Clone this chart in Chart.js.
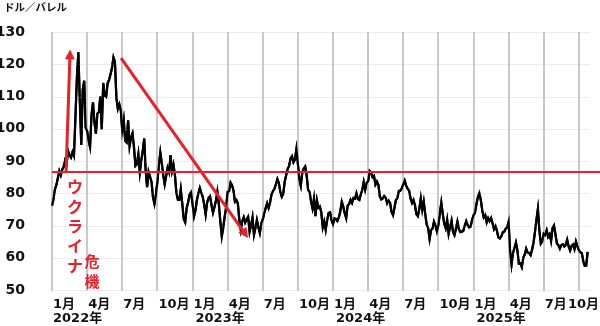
<!DOCTYPE html>
<html>
<head>
<meta charset="utf-8">
<script src="https://cdn.jsdelivr.net/npm/chart.js@4.4.0/dist/chart.umd.min.js"></script>
<style>
  html, body { margin: 0; padding: 0; background: #fff; }
  #wrap { width: 600px; height: 326px; position: relative; }
</style>
</head>
<body>
<div id="wrap"><canvas id="oilChart"></canvas></div>
<script>
const FONT = '"DejaVu Sans", "Noto Sans CJK JP", sans-serif';

// axis labels
const years = ['2022年', '2023年', '2024年', '2025年'];
const quarterLabels = ['1月', '4月', '7月', '10月'];
const quarterStarts = [0, 3, 6, 9, 12, 15, 18, 21, 24, 27, 30, 33, 36, 39, 42, 45];
const yTicks = [50, 60, 70, 80, 90, 100, 110, 120, 130];
const unitLabel = 'ドル／バレル';

// WTI price, ~8 readings per month
const wti2022 = [
  [76.1, 78.2, 81.2, 82.6, 84.7, 86.9, 85.6, 87.4],
  [88.2, 90.3, 89.4, 93.1, 91.8, 91.1, 92.8, 91.6],
  [103.4, 115.7, 123.7, 108.7, 95.0, 112.1, 114.9, 100.3],
  [99.3, 96.2, 94.3, 104.3, 108.2, 102.1, 98.5, 104.7],
  [105.2, 110.0, 99.8, 114.2, 110.3, 109.9, 114.1, 115.1],
  [116.9, 118.9, 122.1, 120.7, 109.6, 106.2, 107.6, 105.8],
  [99.5, 102.7, 96.3, 95.8, 102.6, 94.7, 97.3, 98.6],
  [94.4, 88.5, 89.0, 92.1, 86.5, 90.2, 93.1, 97.0],
  [86.9, 81.9, 86.6, 85.1, 83.5, 78.7, 76.7, 79.5],
  [83.6, 88.5, 92.6, 89.4, 85.6, 82.8, 85.3, 87.9],
  [86.5, 91.8, 86.9, 88.9, 85.6, 80.1, 78.0, 77.9],
  [81.2, 76.9, 72.0, 71.0, 75.4, 77.1, 79.6, 80.3]
];
const wti2023 = [
  [76.9, 72.8, 74.6, 77.9, 79.9, 81.6, 80.1, 78.9],
  [76.4, 73.4, 77.1, 78.5, 79.1, 76.3, 74.0, 75.7],
  [77.7, 80.5, 76.7, 71.3, 66.6, 69.3, 72.8, 75.7],
  [80.4, 80.7, 83.3, 82.5, 80.9, 77.4, 77.9, 76.8],
  [71.7, 68.6, 71.3, 72.6, 70.9, 71.9, 72.7, 68.1],
  [70.1, 72.5, 67.1, 69.2, 71.7, 69.5, 67.7, 70.6],
  [71.8, 73.8, 75.4, 76.9, 75.4, 77.1, 79.7, 80.6],
  [81.4, 82.8, 84.4, 83.2, 80.4, 78.9, 79.8, 83.6],
  [85.6, 87.5, 88.5, 90.8, 91.5, 89.6, 90.4, 93.7],
  [89.2, 84.2, 82.3, 86.4, 87.7, 88.3, 85.5, 81.0],
  [80.4, 77.4, 75.3, 78.3, 72.9, 77.8, 75.5, 75.9],
  [74.1, 69.4, 71.2, 68.6, 71.6, 73.9, 74.1, 71.7]
];
const wti2024 = [
  [70.4, 72.2, 72.0, 71.4, 72.6, 74.4, 77.4, 75.9],
  [73.8, 72.3, 76.2, 76.6, 78.0, 77.0, 78.5, 78.3],
  [80.0, 78.2, 77.9, 79.7, 81.0, 83.5, 81.1, 83.2],
  [83.7, 86.9, 86.4, 85.0, 85.4, 82.7, 83.6, 82.6],
  [79.0, 78.1, 78.4, 79.1, 78.6, 76.9, 77.7, 77.0],
  [74.2, 73.2, 75.5, 77.9, 78.5, 80.7, 80.8, 81.5],
  [82.8, 83.9, 82.3, 81.4, 80.8, 78.4, 77.0, 77.9],
  [76.3, 73.5, 72.9, 75.2, 78.4, 74.9, 77.4, 73.6],
  [70.3, 69.2, 65.8, 68.6, 69.0, 71.2, 70.0, 68.2],
  [70.1, 73.7, 77.1, 73.6, 70.6, 69.2, 71.8, 67.4],
  [69.5, 71.5, 68.0, 67.0, 69.0, 71.2, 68.9, 68.0],
  [68.1, 68.3, 70.0, 71.3, 70.1, 69.4, 69.6, 71.7]
];
const wti2025 = [
  [73.1, 74.0, 76.6, 78.8, 80.0, 77.9, 74.6, 72.5],
  [73.2, 71.0, 72.3, 71.4, 72.3, 70.7, 68.9, 69.8],
  [68.4, 66.3, 66.0, 66.6, 67.9, 68.1, 69.0, 69.4],
  [71.2, 61.9, 57.9, 61.5, 63.1, 64.7, 62.3, 58.2],
  [58.3, 57.1, 59.9, 61.0, 62.8, 61.6, 61.5, 60.8],
  [62.5, 64.6, 68.0, 71.8, 75.1, 68.5, 64.4, 65.1],
  [67.5, 67.0, 68.5, 66.5, 67.3, 65.2, 69.2, 70.0],
  [67.3, 64.4, 63.9, 62.8, 63.9, 64.2, 63.5, 64.0],
  [65.6, 63.5, 62.3, 63.7, 64.1, 62.7, 65.0, 63.5],
  [62.4, 61.7, 61.5, 58.9, 57.5, 57.6, 61.8]
];
const readingsPerMonth = 8;

// annotations (x in months from Jan 2022, y in $/bbl)
const refLevel = 86.6;
const upArrow = { from: [1.2, 86.6], to: [1.55, 124.6] };
const downArrow = { from: [5.9, 121.9], to: [16.75, 66.1] };
const crisisText = 'ウクライナ';
const crisisText2 = '危機';

// build points: month index since Jan 2022 + position in month
const points = [];
[wti2022, wti2023, wti2024, wti2025].forEach((yearData, yi) => {
  yearData.forEach((vals, mi) => {
    vals.forEach((v, i) => {
      points.push({ x: yi * 12 + mi + i / readingsPerMonth, y: v });
    });
  });
});

const RED = '#e8202a';

function drawArrow(ctx, x1, y1, x2, y2) {
  const ang = Math.atan2(y2 - y1, x2 - x1);
  const head = 10;
  ctx.beginPath();
  ctx.moveTo(x1, y1);
  ctx.lineTo(x2 - Math.cos(ang) * head * 0.8, y2 - Math.sin(ang) * head * 0.8);
  ctx.stroke();
  ctx.beginPath();
  ctx.moveTo(x2, y2);
  ctx.lineTo(x2 - head * Math.cos(ang) + 5 * Math.sin(ang), y2 - head * Math.sin(ang) - 5 * Math.cos(ang));
  ctx.lineTo(x2 - head * Math.cos(ang) - 5 * Math.sin(ang), y2 - head * Math.sin(ang) + 5 * Math.cos(ang));
  ctx.closePath();
  ctx.fill();
}

// everything on top of the dataset: grid, price line again, red marks
const annotations = {
  id: 'annotations',
  afterDatasetsDraw(chart) {
    const { ctx, chartArea: a, scales: { x, y } } = chart;
    ctx.save();

    // grid lines (anything painted before the datasets got lost, so do it here)
    ctx.fillStyle = '#ececec';
    yTicks.forEach(v => {
      const py = Math.round(y.getPixelForValue(v));
      ctx.fillRect(a.left, py, a.right - a.left, 1);
    });
    ctx.fillStyle = '#c8c8c8';
    quarterStarts.forEach(q => {
      const px = Math.round(x.getPixelForValue(q));
      ctx.fillRect(px - 1, a.top, 2, a.bottom - a.top + 1);
    });

    // price line back over the grid, from the points Chart.js placed
    const pts = chart.getDatasetMeta(0).data;
    ctx.strokeStyle = '#000';
    ctx.lineWidth = 2.2;
    ctx.beginPath();
    pts.forEach((p, i) => (i ? ctx.lineTo(p.x, p.y) : ctx.moveTo(p.x, p.y)));
    ctx.stroke();

    // reference level
    ctx.strokeStyle = RED;
    ctx.fillStyle = RED;
    ctx.lineWidth = 2;
    ctx.beginPath();
    ctx.moveTo(x.left, y.getPixelForValue(refLevel));
    ctx.lineTo(chart.width, y.getPixelForValue(refLevel));
    ctx.stroke();
    // arrows
    ctx.lineWidth = 3;
    [upArrow, downArrow].forEach(ar => {
      drawArrow(ctx,
        x.getPixelForValue(ar.from[0]), y.getPixelForValue(ar.from[1]),
        x.getPixelForValue(ar.to[0]), y.getPixelForValue(ar.to[1]));
    });
    // vertical text
    ctx.textAlign = 'center';
    ctx.textBaseline = 'middle';
    ctx.font = 'bold 16px ' + FONT;
    let cx = x.getPixelForValue(1.97), cy = y.getPixelForValue(81.4);
    [...crisisText].forEach((ch, i) => ctx.fillText(ch, cx, cy + i * 19.8));
    ctx.font = 'bold 15px ' + FONT;
    cx = x.getPixelForValue(3.42); cy = y.getPixelForValue(58.4);
    [...crisisText2].forEach((ch, i) => ctx.fillText(ch, cx, cy + i * 20));
    ctx.restore();
  },
  afterDraw(chart) {
    const { ctx, scales: { x } } = chart;
    ctx.save();
    ctx.fillStyle = '#111';
    ctx.textAlign = 'left';
    ctx.textBaseline = 'middle';
    ctx.font = 'bold 10.5px ' + FONT;
    ctx.fillText(unitLabel, 4, 8);
    ctx.font = 'bold 13px ' + FONT;
    quarterStarts.forEach((q, i) => {
      const label = quarterLabels[i % 4];
      const w = ctx.measureText(label).width;
      let px = x.getPixelForValue(q) + 1;
      if (px + w > chart.width - 1) px = chart.width - 1 - w;
      ctx.fillText(label, px, 304.5);
      if (i % 4 === 0) {
        ctx.fillText(years[i / 4], px + (i ? 2 : 0), 318.5);
      }
    });
    ctx.restore();
  }
};

new Chart(document.getElementById('oilChart'), {
  type: 'line',
  data: {
    datasets: [{
      data: points,
      borderColor: '#000',
      borderWidth: 2.2,
      pointRadius: 0,
      tension: 0
    }]
  },
  options: {
    responsive: true,
    maintainAspectRatio: false,
    animation: false,
    devicePixelRatio: 1,
    layout: { padding: { top: 32, right: 10, left: 0, bottom: 0 } },
    plugins: { legend: { display: false }, tooltip: { enabled: false } },
    scales: {
      x: {
        type: 'linear',
        min: 0,
        max: 45.95,
        afterFit: s => { s.height = 36; },
        ticks: { display: false },
        grid: { display: false },
        border: { display: false }
      },
      y: {
        min: yTicks[0],
        max: yTicks[yTicks.length - 1],
        afterFit: s => { s.width = 52; },
        ticks: {
          stepSize: 10,
          padding: 19,
          color: '#111',
          font: { family: FONT, size: 14, weight: 'bold' }
        },
        grid: { display: false },
        border: { display: false }
      }
    }
  },
  plugins: [annotations]
});
</script>
</body>
</html>
